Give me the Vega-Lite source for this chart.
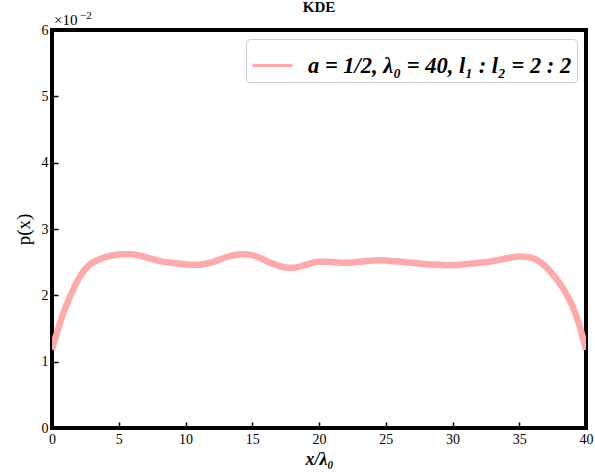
{
  "$schema": "https://vega.github.io/schema/vega-lite/v6.json",
  "autosize": "none",
  "width": 534,
  "height": 398,
  "padding": {"left": 52, "top": 30, "right": 9, "bottom": 44},
  "background": "white",
  "title": {"text": "KDE", "font": "Liberation Serif", "fontSize": 15, "fontWeight": "bold", "color": "black", "offset": -5, "anchor": "middle"},
  "config": {
    "view": {"stroke": "black", "strokeWidth": 4},
    "font": "Liberation Serif"
  },
  "layer": [
    {
      "data": {"values": [
        {"x": 0, "p": 1.18, "s": "a = 1/2, λ₀ = 40, l₁ : l₂ = 2 : 2"},
        {"x": 0.5, "p": 1.52, "s": "a = 1/2, λ₀ = 40, l₁ : l₂ = 2 : 2"},
        {"x": 1, "p": 1.81, "s": "a = 1/2, λ₀ = 40, l₁ : l₂ = 2 : 2"},
        {"x": 1.5, "p": 2.05, "s": "a = 1/2, λ₀ = 40, l₁ : l₂ = 2 : 2"},
        {"x": 2, "p": 2.25, "s": "a = 1/2, λ₀ = 40, l₁ : l₂ = 2 : 2"},
        {"x": 2.5, "p": 2.4, "s": "a = 1/2, λ₀ = 40, l₁ : l₂ = 2 : 2"},
        {"x": 3, "p": 2.49, "s": "a = 1/2, λ₀ = 40, l₁ : l₂ = 2 : 2"},
        {"x": 3.5, "p": 2.54, "s": "a = 1/2, λ₀ = 40, l₁ : l₂ = 2 : 2"},
        {"x": 4, "p": 2.575, "s": "a = 1/2, λ₀ = 40, l₁ : l₂ = 2 : 2"},
        {"x": 4.5, "p": 2.6, "s": "a = 1/2, λ₀ = 40, l₁ : l₂ = 2 : 2"},
        {"x": 5, "p": 2.615, "s": "a = 1/2, λ₀ = 40, l₁ : l₂ = 2 : 2"},
        {"x": 5.5, "p": 2.62, "s": "a = 1/2, λ₀ = 40, l₁ : l₂ = 2 : 2"},
        {"x": 6, "p": 2.62, "s": "a = 1/2, λ₀ = 40, l₁ : l₂ = 2 : 2"},
        {"x": 6.5, "p": 2.6, "s": "a = 1/2, λ₀ = 40, l₁ : l₂ = 2 : 2"},
        {"x": 7, "p": 2.575, "s": "a = 1/2, λ₀ = 40, l₁ : l₂ = 2 : 2"},
        {"x": 7.5, "p": 2.545, "s": "a = 1/2, λ₀ = 40, l₁ : l₂ = 2 : 2"},
        {"x": 8, "p": 2.52, "s": "a = 1/2, λ₀ = 40, l₁ : l₂ = 2 : 2"},
        {"x": 8.5, "p": 2.5, "s": "a = 1/2, λ₀ = 40, l₁ : l₂ = 2 : 2"},
        {"x": 9, "p": 2.49, "s": "a = 1/2, λ₀ = 40, l₁ : l₂ = 2 : 2"},
        {"x": 9.5, "p": 2.475, "s": "a = 1/2, λ₀ = 40, l₁ : l₂ = 2 : 2"},
        {"x": 10, "p": 2.465, "s": "a = 1/2, λ₀ = 40, l₁ : l₂ = 2 : 2"},
        {"x": 10.5, "p": 2.46, "s": "a = 1/2, λ₀ = 40, l₁ : l₂ = 2 : 2"},
        {"x": 11, "p": 2.46, "s": "a = 1/2, λ₀ = 40, l₁ : l₂ = 2 : 2"},
        {"x": 11.5, "p": 2.475, "s": "a = 1/2, λ₀ = 40, l₁ : l₂ = 2 : 2"},
        {"x": 12, "p": 2.5, "s": "a = 1/2, λ₀ = 40, l₁ : l₂ = 2 : 2"},
        {"x": 12.5, "p": 2.535, "s": "a = 1/2, λ₀ = 40, l₁ : l₂ = 2 : 2"},
        {"x": 13, "p": 2.57, "s": "a = 1/2, λ₀ = 40, l₁ : l₂ = 2 : 2"},
        {"x": 13.5, "p": 2.6, "s": "a = 1/2, λ₀ = 40, l₁ : l₂ = 2 : 2"},
        {"x": 14, "p": 2.615, "s": "a = 1/2, λ₀ = 40, l₁ : l₂ = 2 : 2"},
        {"x": 14.5, "p": 2.62, "s": "a = 1/2, λ₀ = 40, l₁ : l₂ = 2 : 2"},
        {"x": 15, "p": 2.605, "s": "a = 1/2, λ₀ = 40, l₁ : l₂ = 2 : 2"},
        {"x": 15.5, "p": 2.57, "s": "a = 1/2, λ₀ = 40, l₁ : l₂ = 2 : 2"},
        {"x": 16, "p": 2.525, "s": "a = 1/2, λ₀ = 40, l₁ : l₂ = 2 : 2"},
        {"x": 16.5, "p": 2.48, "s": "a = 1/2, λ₀ = 40, l₁ : l₂ = 2 : 2"},
        {"x": 17, "p": 2.445, "s": "a = 1/2, λ₀ = 40, l₁ : l₂ = 2 : 2"},
        {"x": 17.5, "p": 2.42, "s": "a = 1/2, λ₀ = 40, l₁ : l₂ = 2 : 2"},
        {"x": 18, "p": 2.415, "s": "a = 1/2, λ₀ = 40, l₁ : l₂ = 2 : 2"},
        {"x": 18.5, "p": 2.43, "s": "a = 1/2, λ₀ = 40, l₁ : l₂ = 2 : 2"},
        {"x": 19, "p": 2.46, "s": "a = 1/2, λ₀ = 40, l₁ : l₂ = 2 : 2"},
        {"x": 19.5, "p": 2.49, "s": "a = 1/2, λ₀ = 40, l₁ : l₂ = 2 : 2"},
        {"x": 20, "p": 2.505, "s": "a = 1/2, λ₀ = 40, l₁ : l₂ = 2 : 2"},
        {"x": 20.5, "p": 2.505, "s": "a = 1/2, λ₀ = 40, l₁ : l₂ = 2 : 2"},
        {"x": 21, "p": 2.5, "s": "a = 1/2, λ₀ = 40, l₁ : l₂ = 2 : 2"},
        {"x": 21.5, "p": 2.495, "s": "a = 1/2, λ₀ = 40, l₁ : l₂ = 2 : 2"},
        {"x": 22, "p": 2.49, "s": "a = 1/2, λ₀ = 40, l₁ : l₂ = 2 : 2"},
        {"x": 22.5, "p": 2.495, "s": "a = 1/2, λ₀ = 40, l₁ : l₂ = 2 : 2"},
        {"x": 23, "p": 2.505, "s": "a = 1/2, λ₀ = 40, l₁ : l₂ = 2 : 2"},
        {"x": 23.5, "p": 2.515, "s": "a = 1/2, λ₀ = 40, l₁ : l₂ = 2 : 2"},
        {"x": 24, "p": 2.525, "s": "a = 1/2, λ₀ = 40, l₁ : l₂ = 2 : 2"},
        {"x": 24.5, "p": 2.53, "s": "a = 1/2, λ₀ = 40, l₁ : l₂ = 2 : 2"},
        {"x": 25, "p": 2.525, "s": "a = 1/2, λ₀ = 40, l₁ : l₂ = 2 : 2"},
        {"x": 25.5, "p": 2.515, "s": "a = 1/2, λ₀ = 40, l₁ : l₂ = 2 : 2"},
        {"x": 26, "p": 2.51, "s": "a = 1/2, λ₀ = 40, l₁ : l₂ = 2 : 2"},
        {"x": 26.5, "p": 2.5, "s": "a = 1/2, λ₀ = 40, l₁ : l₂ = 2 : 2"},
        {"x": 27, "p": 2.49, "s": "a = 1/2, λ₀ = 40, l₁ : l₂ = 2 : 2"},
        {"x": 27.5, "p": 2.48, "s": "a = 1/2, λ₀ = 40, l₁ : l₂ = 2 : 2"},
        {"x": 28, "p": 2.47, "s": "a = 1/2, λ₀ = 40, l₁ : l₂ = 2 : 2"},
        {"x": 28.5, "p": 2.465, "s": "a = 1/2, λ₀ = 40, l₁ : l₂ = 2 : 2"},
        {"x": 29, "p": 2.46, "s": "a = 1/2, λ₀ = 40, l₁ : l₂ = 2 : 2"},
        {"x": 29.5, "p": 2.455, "s": "a = 1/2, λ₀ = 40, l₁ : l₂ = 2 : 2"},
        {"x": 30, "p": 2.455, "s": "a = 1/2, λ₀ = 40, l₁ : l₂ = 2 : 2"},
        {"x": 30.5, "p": 2.46, "s": "a = 1/2, λ₀ = 40, l₁ : l₂ = 2 : 2"},
        {"x": 31, "p": 2.47, "s": "a = 1/2, λ₀ = 40, l₁ : l₂ = 2 : 2"},
        {"x": 31.5, "p": 2.48, "s": "a = 1/2, λ₀ = 40, l₁ : l₂ = 2 : 2"},
        {"x": 32, "p": 2.49, "s": "a = 1/2, λ₀ = 40, l₁ : l₂ = 2 : 2"},
        {"x": 32.5, "p": 2.5, "s": "a = 1/2, λ₀ = 40, l₁ : l₂ = 2 : 2"},
        {"x": 33, "p": 2.515, "s": "a = 1/2, λ₀ = 40, l₁ : l₂ = 2 : 2"},
        {"x": 33.5, "p": 2.535, "s": "a = 1/2, λ₀ = 40, l₁ : l₂ = 2 : 2"},
        {"x": 34, "p": 2.555, "s": "a = 1/2, λ₀ = 40, l₁ : l₂ = 2 : 2"},
        {"x": 34.5, "p": 2.575, "s": "a = 1/2, λ₀ = 40, l₁ : l₂ = 2 : 2"},
        {"x": 35, "p": 2.585, "s": "a = 1/2, λ₀ = 40, l₁ : l₂ = 2 : 2"},
        {"x": 35.5, "p": 2.58, "s": "a = 1/2, λ₀ = 40, l₁ : l₂ = 2 : 2"},
        {"x": 36, "p": 2.56, "s": "a = 1/2, λ₀ = 40, l₁ : l₂ = 2 : 2"},
        {"x": 36.5, "p": 2.51, "s": "a = 1/2, λ₀ = 40, l₁ : l₂ = 2 : 2"},
        {"x": 37, "p": 2.43, "s": "a = 1/2, λ₀ = 40, l₁ : l₂ = 2 : 2"},
        {"x": 37.5, "p": 2.32, "s": "a = 1/2, λ₀ = 40, l₁ : l₂ = 2 : 2"},
        {"x": 38, "p": 2.19, "s": "a = 1/2, λ₀ = 40, l₁ : l₂ = 2 : 2"},
        {"x": 38.5, "p": 2.03, "s": "a = 1/2, λ₀ = 40, l₁ : l₂ = 2 : 2"},
        {"x": 39, "p": 1.83, "s": "a = 1/2, λ₀ = 40, l₁ : l₂ = 2 : 2"},
        {"x": 39.5, "p": 1.55, "s": "a = 1/2, λ₀ = 40, l₁ : l₂ = 2 : 2"},
        {"x": 40, "p": 1.18, "s": "a = 1/2, λ₀ = 40, l₁ : l₂ = 2 : 2"}
      ]},
      "mark": {"type": "line", "strokeWidth": 6.5, "interpolate": "monotone", "clip": true, "strokeCap": "butt"},
      "encoding": {
        "x": {"field": "x", "type": "quantitative", "scale": {"domain": [0, 40], "nice": false, "zero": false},
          "axis": {"values": [0, 5, 10, 15, 20, 25, 30, 35, 40], "format": "d", "grid": false, "domain": false, "tickSize": -6, "tickWidth": 1.5, "tickColor": "black",
            "labelFont": "Liberation Serif", "labelFontSize": 14, "labelColor": "black", "labelPadding": 10, "labelFlush": false,
            "title": "x/λ₀", "titleFont": "Liberation Serif", "titleFontSize": 18, "titleFontStyle": "italic", "titleFontWeight": "bold", "titleColor": "black", "titlePadding": 4}},
        "y": {"field": "p", "type": "quantitative", "scale": {"domain": [0, 6], "nice": false, "zero": false},
          "axis": {"values": [0, 1, 2, 3, 4, 5, 6], "format": "d", "grid": false, "domain": false, "tickSize": -6, "tickWidth": 1.5, "tickColor": "black",
            "labelFont": "Liberation Serif", "labelFontSize": 14, "labelColor": "black", "labelPadding": 10, "labelFlush": false,
            "title": "p(x)", "titleFont": "Liberation Serif", "titleFontSize": 19, "titleFontWeight": "normal", "titleColor": "black", "titlePadding": 8}},
        "color": {"field": "s", "type": "nominal", "scale": {"range": ["#ffaaaa"]},
          "legend": {"title": null, "orient": "top-right", "offset": 9, "symbolType": "stroke", "symbolSize": 1600, "symbolStrokeWidth": 3,
            "labelFont": "Liberation Serif", "labelFontSize": 22.5, "labelFontStyle": "italic", "labelFontWeight": "bold", "labelColor": "black",
            "strokeColor": "#cccccc", "fillColor": "white", "cornerRadius": 4, "padding": 5, "labelOffset": 14, "labelLimit": 400}}
      }
    },
    {
      "data": {"values": [{"x": 0, "p": 6, "t": "×10", "e": "−2"}]},
      "layer": [
        {
          "mark": {"type": "text", "align": "left", "baseline": "bottom", "dy": -2, "dx": 2, "font": "Liberation Serif", "fontSize": 15, "color": "black"},
          "encoding": {
            "x": {"field": "x", "type": "quantitative"},
            "y": {"field": "p", "type": "quantitative"},
            "text": {"field": "t"}
          }
        },
        {
          "mark": {"type": "text", "align": "left", "baseline": "bottom", "dy": -9, "dx": 28, "font": "Liberation Serif", "fontSize": 11, "color": "black"},
          "encoding": {
            "x": {"field": "x", "type": "quantitative"},
            "y": {"field": "p", "type": "quantitative"},
            "text": {"field": "e"}
          }
        }
      ]
    }
  ]
}
